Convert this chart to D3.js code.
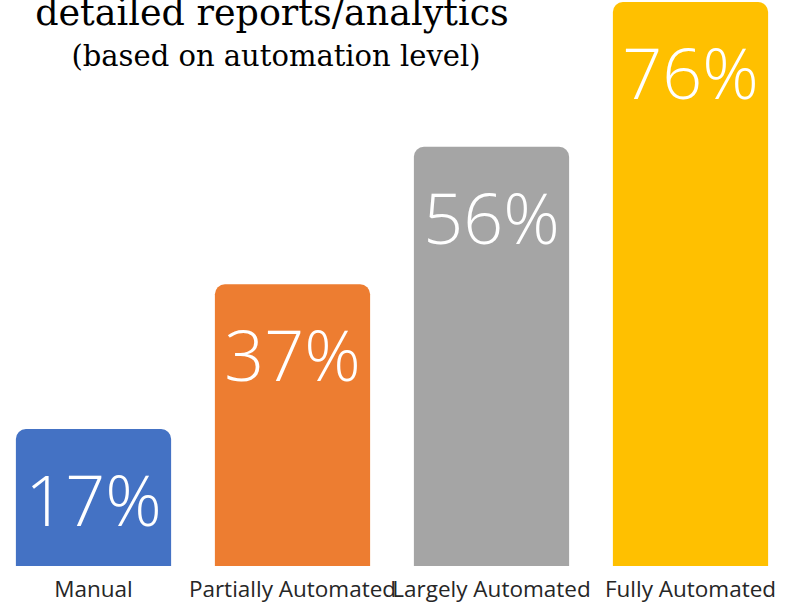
<!DOCTYPE html>
<html>
<head>
<meta charset="utf-8">
<script src="https://cdn.jsdelivr.net/npm/d3@7"></script>
<style>
  body { margin: 0; background: #fff; }
  svg { display: block; }
</style>
</head>
<body>
<div id="container"></div>
<script>
// Chart data
const categories = ["Manual", "Partially Automated", "Largely Automated", "Fully Automated"];
const values = [17, 37, 56, 76];
const colors = ["#4472C4", "#ED7D31", "#A5A5A5", "#FFC000"];
const titleLines = ["detailed reports/analytics", "(based on automation level)"];

const width = 790;
const height = 603;
const plotBottom = 566;
const plotTop = 2;
const radius = 10;

const svg = d3.create("svg").attr("width", width).attr("height", height);

// x: band scale, bars ~155px wide on a ~199px step
const x = d3.scaleBand()
  .domain(categories)
  .range([-6, width])
  .paddingInner(0.22)
  .paddingOuter(0.11);

// y: axis floor sits a little below zero, as in the original
const y = d3.scaleLinear()
  .domain([-1.93, 76])
  .range([plotBottom, plotTop]);

// bar with rounded top corners
function barPath(x0, w, top, bottom, r) {
  const p = d3.path();
  p.moveTo(x0, bottom);
  p.lineTo(x0, top + r);
  p.arcTo(x0, top, x0 + r, top, r);
  p.lineTo(x0 + w - r, top);
  p.arcTo(x0 + w, top, x0 + w, top + r, r);
  p.lineTo(x0 + w, bottom);
  p.closePath();
  return p.toString();
}

const data = categories.map((c, i) => ({ name: c, value: values[i], color: colors[i] }));

svg.append("g")
  .selectAll("path")
  .data(data)
  .join("path")
  .attr("fill", d => d.color)
  .attr("d", d => barPath(x(d.name), x.bandwidth(), y(d.value), y(y.domain()[0]), radius));

// value labels inside bars
svg.append("g")
  .selectAll("text")
  .data(data)
  .join("text")
  .attr("x", d => x(d.name) + x.bandwidth() / 2)
  .attr("y", d => y(d.value) + 97)
  .attr("text-anchor", "middle")
  .attr("fill", "#fff")
  .attr("font-family", "'Open Sans', sans-serif")
  .attr("font-weight", 300)
  .attr("font-size", "70px")
  .text(d => d.value + "%");

// category labels
svg.append("g")
  .attr("transform", `translate(0,${plotBottom})`)
  .call(d3.axisBottom(x).tickSize(0).tickPadding(0))
  .call(g => g.select(".domain").remove())
  .selectAll("text")
  .attr("dy", null)
  .attr("y", 31)
  .attr("fill", "#262626")
  .attr("font-family", "'Open Sans', sans-serif")
  .attr("font-size", "22.5px");

// title (top line is clipped by the page edge, as in the original)
svg.append("text")
  .attr("x", 272)
  .attr("y", 25)
  .attr("text-anchor", "middle")
  .attr("font-family", "'DejaVu Serif', serif")
  .attr("font-size", "36.5px")
  .attr("fill", "#000")
  .text(titleLines[0]);

svg.append("text")
  .attr("x", 276)
  .attr("y", 66)
  .attr("text-anchor", "middle")
  .attr("font-family", "'DejaVu Serif', serif")
  .attr("font-size", "29px")
  .attr("fill", "#000")
  .text(titleLines[1]);

document.getElementById("container").append(svg.node());
</script>
</body>
</html>
